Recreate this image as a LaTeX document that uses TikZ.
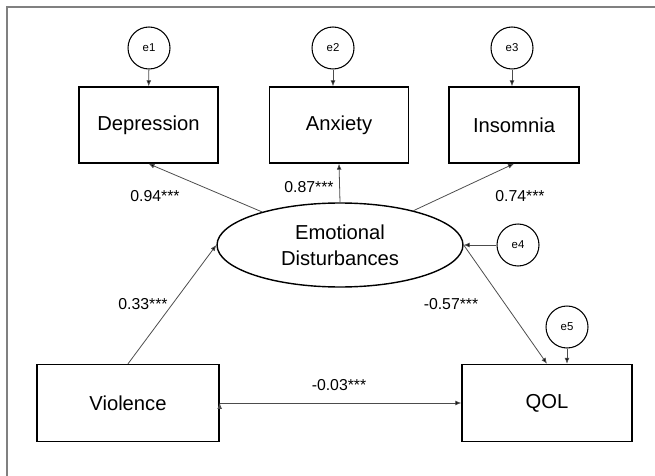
\documentclass[tikz,border=0pt]{standalone}
\usepackage{fontspec}
\setmainfont{Liberation Sans}
\usetikzlibrary{arrows.meta,shapes.geometric}
\tikzset{>={Latex[length=3.4pt,width=2.8pt]}}

\begin{document}
\begin{tikzpicture}[x=0.02cm, y=-0.02cm,
    var/.style={draw, line width=0.8pt, minimum height=1.52cm, font=\fontsize{11.5}{14}\selectfont},
    err/.style={circle, draw, line width=0.6pt, minimum size=0.84cm, inner sep=0pt, font=\fontsize{6.5}{8}\selectfont},
    coef/.style={font=\fontsize{9}{11}\selectfont},
    link/.style={->, draw=black!70, line width=0.45pt}]
        \useasboundingbox (0,0) rectangle (655,476);
        \draw[black!50, line width=0.9pt] (7,476) -- (7,7) -- (655,7); %frame

        \node[var, minimum width=2.78cm] (dep) at (148.5,125) {Depression};
        \node[var, minimum width=2.78cm] (anx) at (339,125) {Anxiety};
        \node[var, minimum width=2.6cm] (ins) at (514,125) {Insomnia};
        \node[var, minimum width=3.64cm, minimum height=1.54cm] (vio) at (128,403) {Violence};
        \node[var, minimum width=3.4cm, minimum height=1.54cm] (qol) at (547,403) {QOL};
        \node[ellipse, draw, line width=0.8pt, minimum width=4.92cm, minimum height=1.68cm, inner sep=0pt,
              align=center, font=\fontsize{11.5}{14.7}\selectfont] (emo) at (340,245) {Emotional\\Disturbances};

        \node[err] (e1) at (149,48) {e1};
        \node[err] (e2) at (333,48) {e2};
        \node[err] (e3) at (512,48) {e3};
        \node[err] (e4) at (518,245) {e4};
        \node[err] (e5) at (567,327) {e5};

        \node[coef] (c1) at (155,196) {0.94***};
        \node[coef] (c2) at (309,187) {0.87***};
        \node[coef] (c3) at (520,196) {0.74***};
        \node[coef] (c4) at (143,304) {0.33***};
        \node[coef] (c5) at (451,304) {-0.57***};
        \node[coef] (c6) at (339,385) {-0.03***};

        \path[link]
        (emo) edge (dep.south)
        (emo.north) edge (anx.south)
        (emo) edge (ins.south)
        (vio.north) edge (emo.west)
        (e4) edge (emo.east)
        (emo.east) edge (qol.north)
        (vio.east) edge (qol.west)
        (e1) edge (dep)
        (e2) edge (e2 |- anx.north)
        (e3) edge (e3 |- ins.north)
        (e5) edge (e5 |- qol.north);
      \end{tikzpicture}
\end{document}
